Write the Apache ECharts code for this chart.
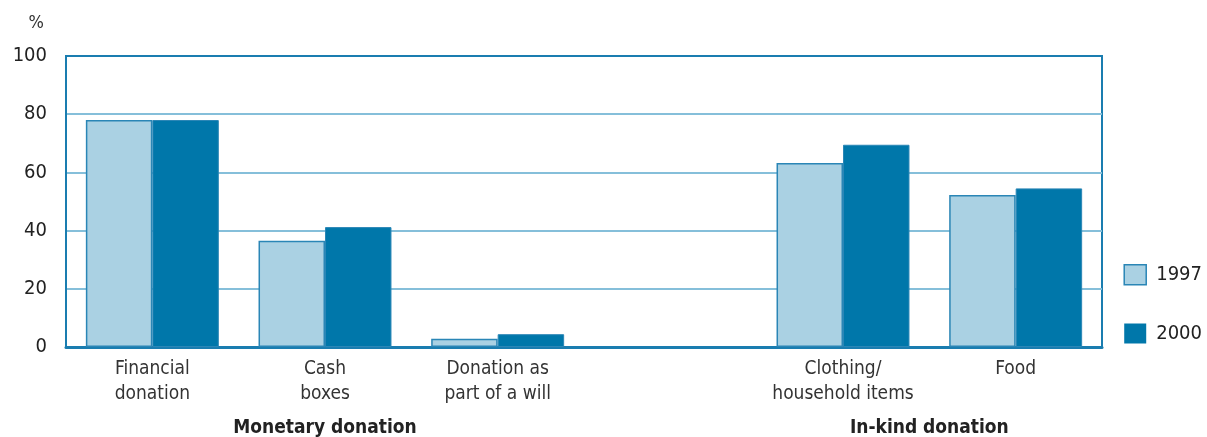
<!DOCTYPE html>
<html><head><meta charset="utf-8">
<script src="https://cdn.jsdelivr.net/npm/echarts@6/dist/echarts.min.js"></script>
<style>html,body{margin:0;padding:0;background:#fff}#c{width:1207px;height:437px}</style>
</head><body><div id="c"></div>
<script>
const categories = ['Financial\ndonation', 'Cash\nboxes', 'Donation as\npart of a will', '', 'Clothing/\nhousehold items', 'Food'];
const values1997 = [78, 36.5, 2.8, '-', 63.2, 52.2];
const values2000 = [78, 41.2, 4.4, '-', 69.5, 54.5];
const yTicks = [0, 20, 40, 60, 80, 100];
const groups = [
  {name: 'Monetary donation', from: 0, to: 2},
  {name: 'In-kind donation', from: 4, to: 5}
];
const FONT = "'DejaVu Sans Condensed',sans-serif";
const frame = '#1a7db0';
const chart = echarts.init(document.getElementById('c'));
const option = {
  animation: false,
  grid: {left: 66, right: 105, top: 56, bottom: 90, show: true, borderColor: frame, borderWidth: 2, backgroundColor: 'transparent'},
  legend: {
    orient: 'vertical', right: 0, top: 259, itemWidth: 22, itemHeight: 20, itemGap: 38,
    textStyle: {fontFamily: FONT, fontSize: 20, color: '#222', padding: [0,0,0,5]},
    data: [
      {name: '1997', icon: 'rect', itemStyle: {color: '#aad1e3', borderColor: '#2a86b6', borderWidth: 1.5}},
      {name: '2000', icon: 'rect', itemStyle: {color: '#0077aa', borderWidth: 0}}
    ]
  },
  xAxis: {
    type: 'category', data: categories,
    axisLine: {lineStyle: {color: frame, width: 3}},
    axisTick: {show: false},
    axisLabel: {fontFamily: FONT, fontSize: 19, color: '#333', lineHeight: 25, margin: 10, interval: 0}
  },
  yAxis: {
    type: 'value', min: 0, max: 100, interval: 20,
    name: '%', nameLocation: 'end', nameGap: 24,
    nameTextStyle: {fontFamily: FONT, fontSize: 18, color: '#333', align: 'right', padding: [0, 22, 0, 0]},
    axisLine: {show: true, lineStyle: {color: frame, width: 2}},
    axisTick: {show: false},
    splitLine: {showMaxLine: false, showMinLine: false, lineStyle: {color: '#85bfda', width: 2}},
    axisLabel: {fontFamily: FONT, fontSize: 20, color: '#222', margin: 19,
      formatter: v => yTicks.includes(v) ? String(v) : ''}
  },
  series: [
    {name: '1997', type: 'bar', data: values1997, barGap: '0%', barCategoryGap: '23%',
     itemStyle: {color: '#aad1e3', borderColor: '#2a86b6', borderWidth: 1.5}},
    {name: '2000', type: 'bar', data: values2000,
     itemStyle: {color: '#0077aa', borderColor: '#2a86b6', borderWidth: 1}}
  ]
};
chart.setOption(option);
const graphics = groups.map(g => {
  const x1 = chart.convertToPixel({xAxisIndex: 0}, g.from);
  const x2 = chart.convertToPixel({xAxisIndex: 0}, g.to);
  return {type: 'text', style: {text: g.name, x: (x1 + x2) / 2, y: 428,
    align: 'center', verticalAlign: 'middle', fontFamily: FONT, fontSize: 19, fontWeight: 'bold', fill: '#222'}};
});
chart.setOption({graphic: graphics});
</script></body></html>
